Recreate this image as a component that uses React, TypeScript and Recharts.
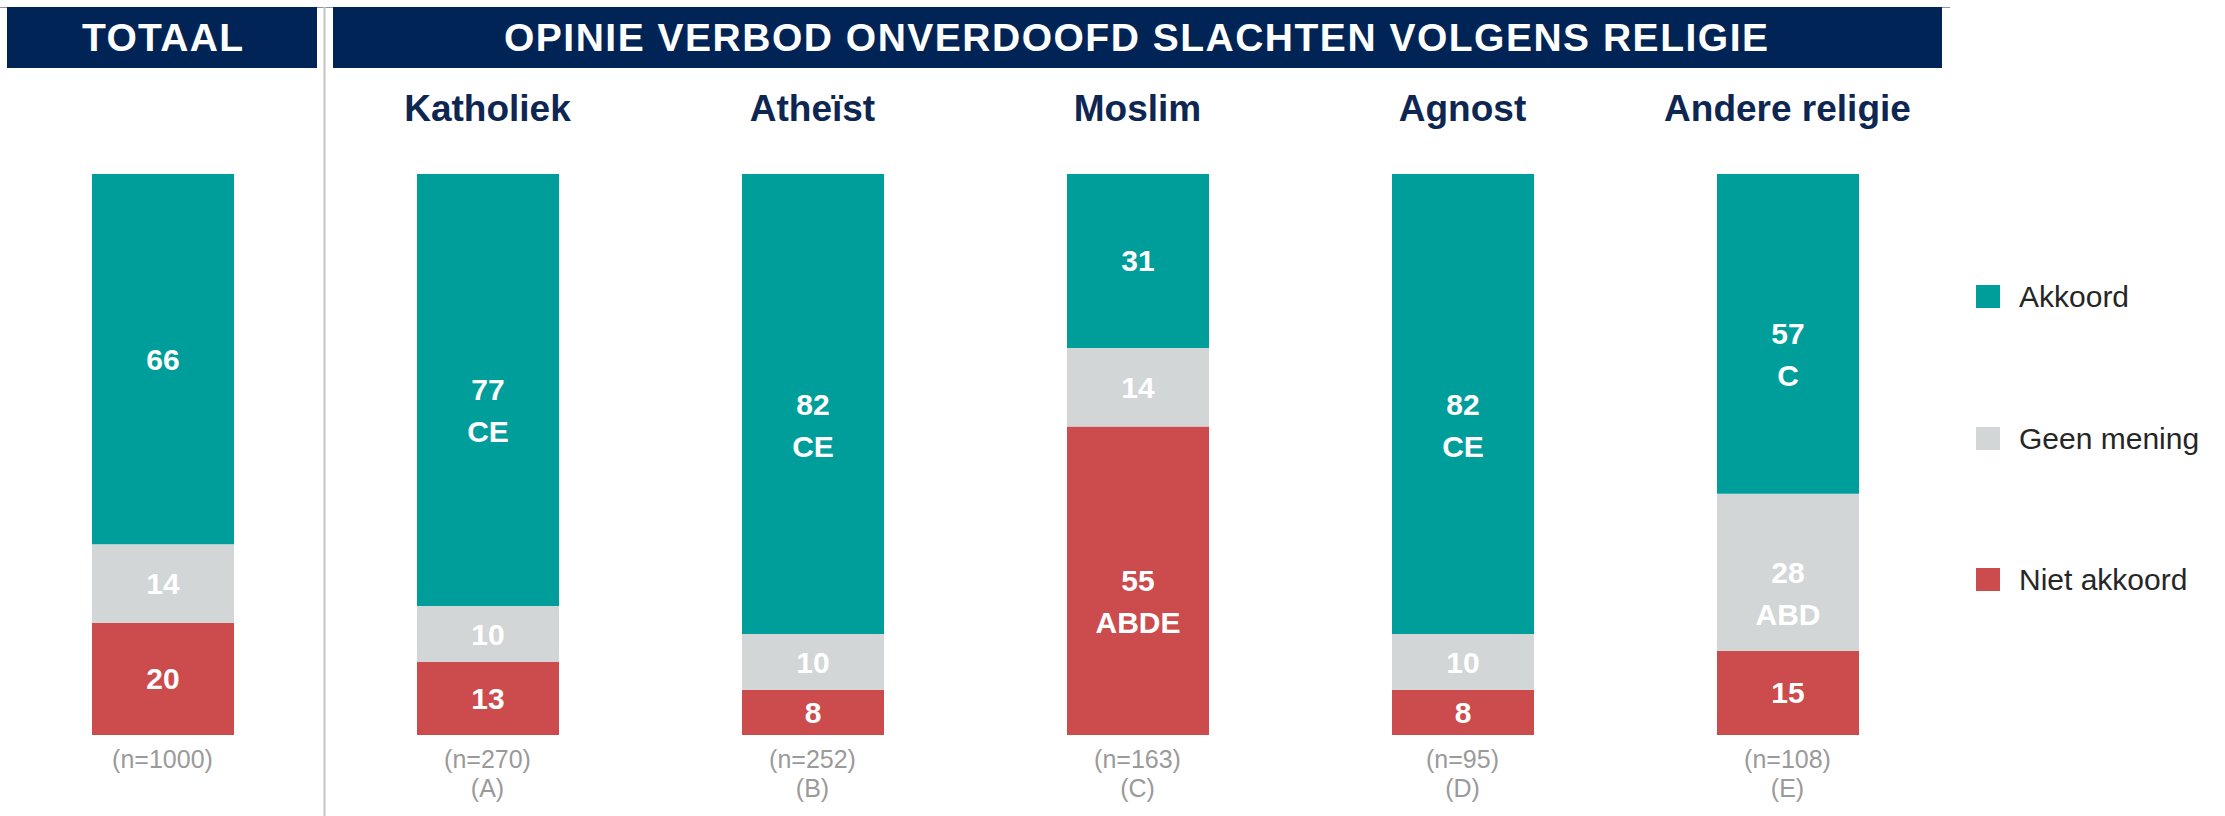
import React from "react";
import { BarChart, Bar, XAxis, YAxis, Legend, LabelList } from "recharts";

// ---- data ----
const categories = ["Totaal", "Katholiek", "Atheïst", "Moslim", "Agnost", "Andere religie"];
const groupTitles = ["", "Katholiek", "Atheïst", "Moslim", "Agnost", "Andere religie"];
const sampleSizes = ["(n=1000)", "(n=270)", "(n=252)", "(n=163)", "(n=95)", "(n=108)"];
const groupLetters = ["", "(A)", "(B)", "(C)", "(D)", "(E)"];

const akkoord = [66, 77, 82, 31, 82, 57];
const geenMening = [14, 10, 10, 14, 10, 28];
const nietAkkoord = [20, 13, 8, 55, 8, 15];

const akkoordSig = ["", "CE", "CE", "", "CE", "C"];
const geenMeningSig = ["", "", "", "", "", "ABD"];
const nietAkkoordSig = ["", "", "", "ABDE", "", ""];

const legendOrder = ["Akkoord", "Geen mening", "Niet akkoord"];

const headerTotal = "TOTAAL";
const headerMain = "OPINIE VERBOD ONVERDOOFD SLACHTEN VOLGENS RELIGIE";

const COLORS = {
  akkoord: "#009E9B",
  geen: "#D2D6D7",
  niet: "#CC4B4C",
  navy: "#002455",
  title: "#0E2652",
  grey: "#9A9A9A",
};

const data = categories.map((c, i) => ({
  name: c,
  title: groupTitles[i],
  n: sampleSizes[i],
  letter: groupLetters[i],
  akkoord: akkoord[i],
  geen: geenMening[i],
  niet: nietAkkoord[i],
}));

const FONT = "'Liberation Sans', Arial, Helvetica, sans-serif";
const PLOT_TOP = 174;
const PLOT_BOTTOM = 735;

const makeLabel = (sigs: string[]) => (props: any) => {
  const { x, y, width, height, value, index } = props;
  const cx = Number(x) + Number(width) / 2;
  const cy = Number(y) + Number(height) / 2;
  const sig = sigs[index];
  return (
    <g>
      <text x={cx} y={cy} textAnchor="middle" dominantBaseline="central" fill="#FFFFFF"
        fontFamily={FONT} fontWeight="bold" fontSize={30}>{value}</text>
      {sig ? (
        <text x={cx} y={cy + 42} textAnchor="middle" dominantBaseline="central" fill="#FFFFFF"
          fontFamily={FONT} fontWeight="bold" fontSize={30}>{sig}</text>
      ) : null}
    </g>
  );
};

const CategoryTick = (props: any) => {
  const { x, index } = props;
  const d = data[index];
  return (
    <g>
      {d.title ? (
        <text x={x} y={121} textAnchor="middle" fill={COLORS.title} fontFamily={FONT}
          fontWeight="bold" fontSize={37}>{d.title}</text>
      ) : null}
      <text x={x} y={PLOT_BOTTOM + 33} textAnchor="middle" fill={COLORS.grey} fontFamily={FONT}
        fontSize={25}>{d.n}</text>
      {d.letter ? (
        <text x={x} y={PLOT_BOTTOM + 62} textAnchor="middle" fill={COLORS.grey} fontFamily={FONT}
          fontSize={25}>{d.letter}</text>
      ) : null}
    </g>
  );
};

const LegendContent = (props: any) => {
  const payload = (props.payload || []).slice().sort(
    (a: any, b: any) => legendOrder.indexOf(a.value) - legendOrder.indexOf(b.value)
  );
  return (
    <div style={{ position: "relative", width: 249, height: 320 }}>
      {payload.map((p: any, i: number) => (
        <div key={p.value} style={{ position: "absolute", left: 0, top: i * 141.5, height: 23, display: "flex", alignItems: "center" }}>
          <div style={{ width: 24, height: 23, background: p.color }} />
          <span style={{ marginLeft: 19, fontFamily: FONT, fontSize: 30, color: "#262626", whiteSpace: "nowrap", lineHeight: "23px" }}>{p.value}</span>
        </div>
      ))}
    </div>
  );
};

export default function App() {
  return (
    <div style={{ position: "absolute", left: 0, top: 0, width: 2225, height: 816, background: "#FFFFFF", overflow: "hidden" }}>
      <svg width={2225} height={816} style={{ position: "absolute", left: 0, top: 0 }}>
        <line x1={0} y1={7.5} x2={1950} y2={7.5} stroke="#8A94A8" strokeWidth={1} />
        <rect x={7} y={7} width={310} height={61} fill={COLORS.navy} />
        <rect x={333} y={7} width={1609} height={61} fill={COLORS.navy} />
        <line x1={324.5} y1={7} x2={324.5} y2={816} stroke="#C4C4C4" strokeWidth={2} />
        <text x={162.5} y={51} textAnchor="middle" fill="#FFFFFF" fontFamily={FONT} fontWeight="bold"
          fontSize={39} textLength={161} lengthAdjust="spacing">{headerTotal}</text>
        <text x={1136} y={51} textAnchor="middle" fill="#FFFFFF" fontFamily={FONT} fontWeight="bold"
          fontSize={39} textLength={1264} lengthAdjust="spacing">{headerMain}</text>
      </svg>
      <div style={{ position: "absolute", left: 0, top: 0 }}>
        <BarChart width={2225} height={816} data={data}
          margin={{ top: PLOT_TOP, right: 275, bottom: 0, left: 0 }}>
          <XAxis dataKey="name" type="category" height={816 - PLOT_BOTTOM} axisLine={false} tickLine={false}
            tick={<CategoryTick />} interval={0} />
          <YAxis hide domain={[0, 100]} type="number" allowDataOverflow />
          <Legend layout="horizontal" verticalAlign="middle" align="center" content={<LegendContent />}
            wrapperStyle={{ position: "absolute", left: 1976, top: 285, width: 249, height: 320 }} />
          <Bar dataKey="niet" name="Niet akkoord" stackId="s" fill={COLORS.niet} barSize={142} isAnimationActive={false}>
            <LabelList dataKey="niet" content={makeLabel(nietAkkoordSig)} />
          </Bar>
          <Bar dataKey="geen" name="Geen mening" stackId="s" fill={COLORS.geen} barSize={142} isAnimationActive={false}>
            <LabelList dataKey="geen" content={makeLabel(geenMeningSig)} />
          </Bar>
          <Bar dataKey="akkoord" name="Akkoord" stackId="s" fill={COLORS.akkoord} barSize={142} isAnimationActive={false}>
            <LabelList dataKey="akkoord" content={makeLabel(akkoordSig)} />
          </Bar>
        </BarChart>
      </div>
    </div>
  );
}
